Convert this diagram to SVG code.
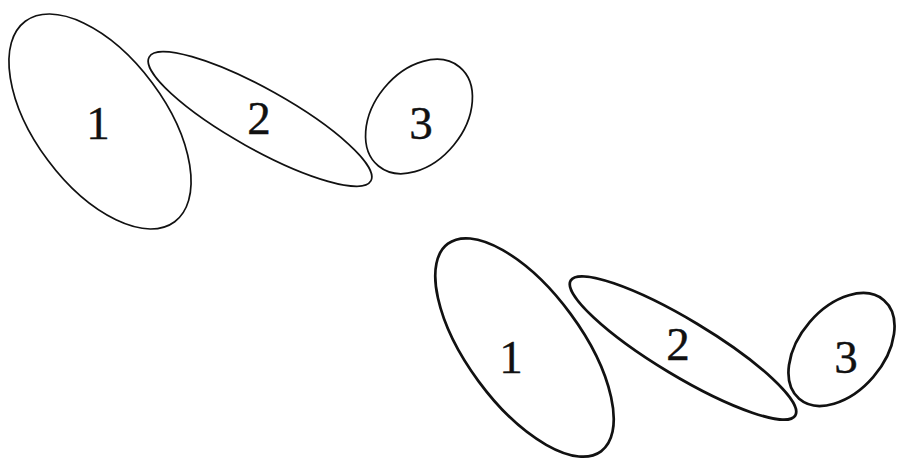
<svg xmlns="http://www.w3.org/2000/svg" width="898" height="462" viewBox="0 0 898 462">
<style>
.e{fill:none;stroke:#111}
.t{stroke-width:1.7}
.b{stroke-width:2.7}
text{font-family:"Liberation Serif","Times New Roman",serif;font-size:47px;fill:#111;text-anchor:middle;stroke:#111;stroke-width:0.4}
</style>
<rect width="898" height="462" fill="#fff"/>
<g id="top-1"><ellipse class="e t" cx="100" cy="121.5" rx="125" ry="65" transform="rotate(53.3 100 121.5)"/><text x="98" y="139">1</text></g>
<g id="top-2"><ellipse class="e t" cx="260" cy="119" rx="127" ry="30" transform="rotate(29.2 260 119)"/><text x="259" y="134">2</text></g>
<g id="top-3"><ellipse class="e t" cx="419" cy="116.5" rx="64" ry="45" transform="rotate(-50.7 419 116.5)"/><text x="421" y="139">3</text></g>
<g id="bottom-1"><ellipse class="e b" cx="524.5" cy="347.5" rx="129" ry="57" transform="rotate(53.6 524.5 347.5)"/><text x="511" y="373">1</text></g>
<g id="bottom-2"><ellipse class="e b" cx="683" cy="348" rx="131" ry="28" transform="rotate(31 683 348)"/><text x="678" y="360">2</text></g>
<g id="bottom-3"><ellipse class="e b" cx="841.5" cy="349.5" rx="65" ry="42" transform="rotate(-49.3 841.5 349.5)"/><text x="846" y="373">3</text></g>
<g id="connectors"/>
</svg>
